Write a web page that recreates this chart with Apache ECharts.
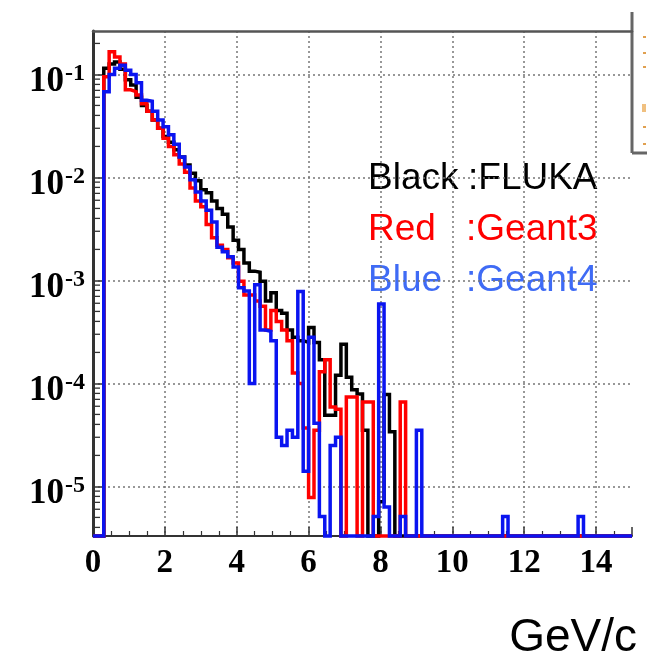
<!DOCTYPE html>
<html><head><meta charset="utf-8">
<script src="https://cdn.jsdelivr.net/npm/echarts@6.0.0/dist/echarts.min.js"></script>
<style>html,body{margin:0;padding:0;background:#fff}#c{width:647px;height:658px}</style>
</head><body><div id="c"></div>
<script>
// ---- data ----
const BIN_WIDTH = 0.15;          // GeV/c per bin (100 bins, 0..15)
const X_MIN = 0, X_MAX = 15;
const Y_MIN = 3.3e-6, Y_MAX = 0.264;
const xTickValues = [0, 2, 4, 6, 8, 10, 12, 14];
const yTickExponents = [-1, -2, -3, -4, -5];
const legendNames = ['Black', 'Red', 'Blue'];
const legendCodes = [':FLUKA', ':Geant3', ':Geant4'];
const xAxisTitle = 'GeV/c';

const fluka = [
  0, 0, 0.115, 0.126, 0.132, 0.112, 0.089, 0.079, 0.060, 0.050,
  0.044, 0.036, 0.030, 0.025, 0.022, 0.0186, 0.0158, 0.0132, 0.011, 0.0093,
  0.0076, 0.0071, 0.0059, 0.0050, 0.0044, 0.0033, 0.00245, 0.0020, 0.00148, 0.00123,
  0.0012, 0.00098, 0.00063, 0.00076, 0.00051, 0.00048, 0.00033, 0.00028, 0.00026, 0.00025,
  0.00035, 0.00025, 0.00017, 4.9e-5, 4.9e-5, 1.2e-4, 2.4e-4, 1.15e-4, 8.7e-5, 7.9e-5,
  3.5e-5, 0, 0, 7.1e-6, 7.8e-5, 3.4e-5, 0, 0, 0, 0,
  0, 0, 0, 0, 0, 0, 0, 0, 0, 0,
  0, 0, 0, 0, 0, 0, 0, 0, 0, 0,
  0, 0, 0, 0, 0, 0, 0, 0, 0, 0,
  0, 0, 0, 0, 0, 0, 0, 0, 0, 0
];
const geant3 = [
  0, 0, 0.095, 0.166, 0.148, 0.126, 0.071, 0.068, 0.063, 0.052,
  0.044, 0.036, 0.030, 0.024, 0.020, 0.0166, 0.0135, 0.0112, 0.0079, 0.0059,
  0.0052, 0.0035, 0.0026, 0.0022, 0.0020, 0.00166, 0.00148, 0.00098, 0.00072, 0.00072,
  0.00063, 0.00056, 0.00033, 0.00051, 0.00040, 0.00033, 0.00026, 0.000126, 0.00010, 3.7e-5,
  7.8e-6, 3.5e-5, 1.3e-4, 1.7e-4, 5.9e-5, 5.6e-5, 0, 7.4e-5, 7.4e-5, 0,
  6.6e-5, 6.6e-5, 0, 0, 0, 0, 0, 6.6e-5, 0, 0,
  0, 0, 0, 0, 0, 0, 0, 0, 0, 0,
  0, 0, 0, 0, 0, 0, 0, 0, 0, 0,
  0, 0, 0, 0, 0, 0, 0, 0, 0, 0,
  0, 0, 0, 0, 0, 0, 0, 0, 0, 0
];
const geant4 = [
  0, 0, 0.068, 0.100, 0.115, 0.123, 0.110, 0.100, 0.083, 0.056,
  0.055, 0.044, 0.036, 0.031, 0.026, 0.021, 0.0158, 0.0126, 0.0095, 0.0072,
  0.0059, 0.0048, 0.0037, 0.0021, 0.0019, 0.0017, 0.00135, 0.00085, 0.00079, 0.00010,
  0.00091, 0.00033, 0.00032, 0.00026, 3.0e-5, 2.5e-5, 3.5e-5, 3.0e-5, 0.00078, 1.4e-5,
  0.00028, 4.1e-5, 5.1e-6, 0, 2.5e-5, 3.0e-5, 0, 0, 0, 0,
  0, 0, 5.1e-6, 5.9e-4, 6.3e-6, 0, 0, 5.1e-6, 0, 0,
  3.5e-5, 0, 0, 0, 0, 0, 0, 0, 0, 0,
  0, 0, 0, 0, 0, 0, 5.1e-6, 0, 0, 0,
  0, 0, 0, 0, 0, 0, 0, 0, 0, 0,
  5.1e-6, 0, 0, 0, 0, 0, 0, 0, 0, 0
];
const minorTickValues = [
  4e-6, 5e-6, 6e-6, 7e-6, 8e-6, 9e-6,
  2e-5, 3e-5, 4e-5, 5e-5, 6e-5, 7e-5, 8e-5, 9e-5,
  2e-4, 3e-4, 4e-4, 5e-4, 6e-4, 7e-4, 8e-4, 9e-4,
  2e-3, 3e-3, 4e-3, 5e-3, 6e-3, 7e-3, 8e-3, 9e-3,
  2e-2, 3e-2, 4e-2, 5e-2, 6e-2, 7e-2, 8e-2, 9e-2,
  2e-1
];

// ---- chart ----
function stepPoints(vals) {
  const pts = [];
  for (let i = 0; i < vals.length; i++) {
    pts.push([+(i * BIN_WIDTH).toFixed(4), vals[i] > 0 ? vals[i] : Y_MIN]);
  }
  const last = vals[vals.length - 1];
  pts.push([+(vals.length * BIN_WIDTH).toFixed(4), last > 0 ? last : Y_MIN]);
  return pts;
}
function histSeries(name, vals, color) {
  return {
    name, type: 'line', step: 'end', data: stepPoints(vals),
    showSymbol: false, symbol: 'none', clip: false, animation: false,
    lineStyle: { color, width: 3.5, join: 'miter' }, z: 3
  };
}
const serif = 'Liberation Serif';
const dotted = { color: '#777', width: 1.5, type: [2, 3] };
const legendFont = '37px "Liberation Sans"';

const chart = echarts.init(document.getElementById('c'), null, { renderer: 'canvas' });
chart.setOption({
  animation: false,
  backgroundColor: '#fff',
  grid: { left: 93, right: 15, top: 31, bottom: 122 },
  xAxis: [{
    type: 'value', min: X_MIN, max: X_MAX, interval: 2,
    axisLine: { lineStyle: { color: '#333', width: 2 } },
    axisTick: { inside: true, length: 9, lineStyle: { color: '#333', width: 1.5 } },
    minorTick: { show: true, splitNumber: 4, length: 5, lineStyle: { color: '#333', width: 1.2 } },
    splitLine: { show: true, showMinLine: false, showMaxLine: false, lineStyle: dotted },
    axisLabel: {
      showMaxLabel: false, margin: 11,
      fontFamily: serif, fontWeight: 'bold', fontSize: 33, color: '#000',
      formatter: v => xTickValues.includes(v) ? String(v) : ''
    }
  }, {
    type: 'value', position: 'top', min: X_MIN, max: X_MAX,
    axisLine: { show: true, lineStyle: { color: '#555', width: 2.5 } },
    axisTick: { show: false }, axisLabel: { show: false }, splitLine: { show: false }
  }],
  yAxis: {
    type: 'log', logBase: 10, min: Y_MIN, max: Y_MAX,
    axisLine: { show: true, lineStyle: { color: '#333', width: 3 } },
    axisTick: { inside: true, length: 10, lineStyle: { color: '#333', width: 1.5 } },
    splitLine: { show: true, showMinLine: false, showMaxLine: false, lineStyle: dotted },
    axisLabel: {
      showMinLabel: false, showMaxLabel: false, margin: 8,
      formatter: v => {
        const e = Math.round(Math.log10(v));
        return yTickExponents.includes(e) ? '{b|10}{s|' + e + '}' : '';
      },
      rich: {
        b: { fontFamily: serif, fontWeight: 'bold', fontSize: 35, color: '#000', padding: [16, 1, 0, 0] },
        s: { fontFamily: serif, fontWeight: 'bold', fontSize: 24, color: '#000', verticalAlign: 'top', padding: [13, 0, 0, 0] }
      }
    }
  },
  series: [
    histSeries('FLUKA', fluka, '#000000'),
    histSeries('Geant3', geant3, '#ff0000'),
    histSeries('Geant4', geant4, '#0a14f0'),
    {
      type: 'custom', silent: true, clip: false, z: 4, animation: false,
      data: minorTickValues.map(v => [X_MIN, v]),
      renderItem: (params, api) => {
        const p = api.coord([api.value(0), api.value(1)]);
        return { type: 'line', shape: { x1: p[0], y1: p[1], x2: p[0] + 7, y2: p[1] },
                 style: { stroke: '#333', lineWidth: 1.3 } };
      }
    }
  ],
  graphic: [
    { type: 'line', shape: { x1: 632, y1: 12, x2: 632, y2: 153 }, style: { stroke: '#666', lineWidth: 3 } },
    { type: 'line', shape: { x1: 632, y1: 153, x2: 647, y2: 153 }, style: { stroke: '#666', lineWidth: 3 } },
    { type: 'rect', shape: { x: 643, y: 36, width: 3, height: 2 }, style: { fill: '#e0a050' } },
    { type: 'rect', shape: { x: 643, y: 52, width: 3, height: 2 }, style: { fill: '#e0a050' } },
    { type: 'rect', shape: { x: 643, y: 66, width: 3, height: 2 }, style: { fill: '#e0a050' } },
    { type: 'rect', shape: { x: 642, y: 104, width: 4, height: 8 }, style: { fill: '#f0c080' } },
    { type: 'rect', shape: { x: 643, y: 126, width: 3, height: 2 }, style: { fill: '#e0a050' } },
    { type: 'rect', shape: { x: 643, y: 143, width: 3, height: 2 }, style: { fill: '#e0a050' } },
    { type: 'text', left: 368, top: 160, style: { text: legendNames[0], fill: '#000', font: legendFont } },
    { type: 'text', left: 468, top: 160, style: { text: legendCodes[0], fill: '#000', font: legendFont } },
    { type: 'text', left: 368, top: 211, style: { text: legendNames[1], fill: '#ff0000', font: legendFont } },
    { type: 'text', left: 466, top: 211, style: { text: legendCodes[1], fill: '#ff0000', font: legendFont } },
    { type: 'text', left: 368, top: 262, style: { text: legendNames[2], fill: '#3f6bf5', font: legendFont } },
    { type: 'text', left: 466, top: 262, style: { text: legendCodes[2], fill: '#3f6bf5', font: legendFont } },
    { type: 'text', right: 10, top: 615, style: { text: xAxisTitle, fill: '#000', font: '46px "Liberation Sans"' } }
  ]
});
</script>
</body></html>
